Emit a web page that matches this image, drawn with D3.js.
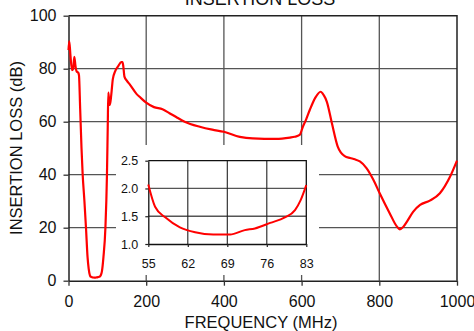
<!DOCTYPE html>
<html>
<head>
<meta charset="utf-8">
<script src="https://cdn.jsdelivr.net/npm/d3@7/dist/d3.min.js"></script>
<style>
  body { margin: 0; background: #fff; }
  svg { display: block; font-family: "Liberation Sans", Arial, Helvetica, sans-serif; }
</style>
</head>
<body>
<div id="chart"></div>
<script>
// main curve: frequency (MHz) vs insertion loss (dB)
var freq = [0, 2, 5, 9, 12, 15, 18, 21, 25, 27, 30, 33.5, 36.5, 41, 45, 49, 52,
  55, 56.2, 58, 60.6, 63.3, 66.5, 69.5, 72.1, 73.9, 76.6, 79.2, 81, 82, 83,
  86, 90, 95, 99, 101, 102.5, 104.5, 106.5, 110, 114, 120, 128, 136, 139, 141, 144,
  150, 158, 175, 183, 200, 220, 242, 260, 280, 299, 338, 370, 400, 441, 474,
  534, 570, 582, 595, 603, 612, 621, 635, 649, 657, 665, 678, 693, 711, 725,
  737, 750, 767, 785, 801, 827, 845, 853, 861, 872, 887, 905, 930, 956, 982, 1000];
var loss = [87, 90.3, 85, 79.5, 80, 84.5, 81, 79, 78.5, 77.5, 65, 50, 40, 30, 20, 9, 4.5,
  2.07, 1.67, 1.48, 1.3, 1.21, 1.17, 1.17, 1.25, 1.28, 1.38, 1.48, 1.61, 1.79, 2.06,
  3.5, 9, 20, 40, 58, 71, 68, 66.3, 70, 76, 79, 81, 82.5, 82.5, 81, 77,
  75.5, 74, 70.5, 69.4, 67.2, 65.5, 64.7, 63.2, 61.5, 60, 58.1, 57, 56.2, 54.3, 53.7,
  53.5, 54, 54.3, 55, 58, 61, 64.4, 69, 71.3, 70, 67.5, 59.4, 50.6, 47, 46.3,
  45.8, 45, 42.5, 38, 33, 25.4, 20.5, 19.4, 20.2, 22.5, 26, 28.6, 30.2, 33, 39.2, 45.3];

// inset: zoom on the passband 55..83 MHz
var insetFreq = [55, 56.2, 58, 60.6, 63.3, 66.5, 69.5, 72.1, 73.9, 76.6, 79.2, 81, 82, 83];
var insetLoss = [2.07, 1.67, 1.48, 1.3, 1.21, 1.17, 1.17, 1.25, 1.28, 1.38, 1.48, 1.61, 1.79, 2.06];

var xTicks = [0, 200, 400, 600, 800, 1000];
var yTicks = [0, 20, 40, 60, 80, 100];
var insetXTicks = [55, 62, 69, 76, 83];
var insetYTicks = [1.0, 1.5, 2.0, 2.5];

var W = 474, H = 331;
var mLeft = 68.5, mRight = 457, mTop = 15.7, mBottom = 280.7;

var svg = d3.select('#chart')
  .append('svg')
  .attr('width', W)
  .attr('height', H);

var x = d3.scaleLinear().domain([0, 1000]).range([mLeft, mRight]);
var y = d3.scaleLinear().domain([0, 100]).range([mBottom, mTop]);

var grid = svg.append('g').attr('class', 'grid');
grid.selectAll('line.h')
  .data(yTicks.slice(1, -1))
  .enter().append('line')
  .attr('class', 'h')
  .attr('x1', mLeft).attr('x2', mRight)
  .attr('y1', function(d) { return y(d); })
  .attr('y2', function(d) { return y(d); })
  .attr('stroke', '#555').attr('stroke-width', 1.3);
grid.selectAll('line.v')
  .data(xTicks.slice(1, -1))
  .enter().append('line')
  .attr('class', 'v')
  .attr('y1', mTop).attr('y2', mBottom)
  .attr('x1', function(d) { return x(d); })
  .attr('x2', function(d) { return x(d); })
  .attr('stroke', '#555').attr('stroke-width', 1.3);

// axes
var xAxis = svg.append('g')
  .attr('transform', 'translate(0,' + mBottom + ')')
  .call(d3.axisBottom(x).tickValues(xTicks).tickFormat(d3.format('d'))
    .tickSize(5).tickSizeOuter(0).tickPadding(10));
var yAxis = svg.append('g')
  .attr('transform', 'translate(' + mLeft + ',0)')
  .call(d3.axisLeft(y).tickValues(yTicks).tickFormat(d3.format('d'))
    .tickSize(5).tickSizeOuter(0).tickPadding(7));
[xAxis, yAxis].forEach(function(a) {
  a.attr('font-family', null);
  a.selectAll('text').attr('font-size', 16).attr('fill', '#111');
  a.selectAll('line').attr('stroke', '#333').attr('stroke-width', 1.3);
  a.select('.domain').attr('stroke', '#222').attr('stroke-width', 1.5);
});

// top and right frame
svg.append('path')
  .attr('d', 'M' + mLeft + ',' + mTop + 'H' + mRight + 'V' + mBottom)
  .attr('fill', 'none').attr('stroke', '#222').attr('stroke-width', 1.5);

var line = d3.line()
  .x(function(d, i) { return x(freq[i]); })
  .y(function(d) { return y(d); })
  .curve(d3.curveMonotoneX);

svg.append('path')
  .datum(loss)
  .attr('d', line)
  .attr('fill', 'none')
  .attr('stroke', '#ff0000')
  .attr('stroke-width', 2.2);

// titles
svg.append('text')
  .attr('x', 260).attr('y', 4.5)
  .attr('text-anchor', 'middle')
  .attr('font-size', 18).attr('fill', '#111')
  .text('INSERTION LOSS');
svg.append('text')
  .attr('x', 261).attr('y', 328)
  .attr('text-anchor', 'middle')
  .attr('font-size', 16.5).attr('fill', '#111')
  .text('FREQUENCY (MHz)');
svg.append('text')
  .attr('transform', 'translate(22,148) rotate(-90)')
  .attr('text-anchor', 'middle')
  .attr('font-size', 16.5).attr('fill', '#111')
  .text('INSERTION LOSS (dB)');

// inset
var inset = svg.append('g').attr('class', 'inset');
inset.append('rect')
  .attr('x', 116).attr('y', 145).attr('width', 203).attr('height', 130)
  .attr('fill', '#fff');

var ix = d3.scaleLinear().domain([55, 83]).range([148.3, 306.3]);
var iy = d3.scaleLinear().domain([1.0, 2.5]).range([244, 160.7]);

inset.selectAll('line.ih')
  .data(insetYTicks.slice(1, -1))
  .enter().append('line')
  .attr('class', 'ih')
  .attr('x1', ix(55)).attr('x2', ix(83))
  .attr('y1', function(d) { return iy(d); })
  .attr('y2', function(d) { return iy(d); })
  .attr('stroke', '#555').attr('stroke-width', 1.3);
inset.selectAll('line.iv')
  .data(insetXTicks.slice(1, -1))
  .enter().append('line')
  .attr('class', 'iv')
  .attr('y1', iy(2.5)).attr('y2', iy(1.0))
  .attr('x1', function(d) { return ix(d); })
  .attr('x2', function(d) { return ix(d); })
  .attr('stroke', '#222').attr('stroke-width', 1.1);

var ixAxis = inset.append('g')
  .attr('transform', 'translate(0,' + iy(1.0) + ')')
  .call(d3.axisBottom(ix).tickValues(insetXTicks).tickSize(3).tickSizeOuter(0).tickPadding(12));
var iyAxis = inset.append('g')
  .attr('transform', 'translate(' + ix(55) + ',0)')
  .call(d3.axisLeft(iy).tickValues(insetYTicks).tickFormat(d3.format('.1f')).tickSize(3).tickSizeOuter(0).tickPadding(7));
[ixAxis, iyAxis].forEach(function(a) {
  a.attr('font-family', null);
  a.selectAll('text').attr('font-size', 12.5).attr('fill', '#111');
  a.selectAll('line').attr('stroke', '#222').attr('stroke-width', 1.2);
  a.select('.domain').attr('stroke', '#111').attr('stroke-width', 1.3);
});
inset.append('path')
  .attr('d', 'M' + ix(55) + ',' + iy(2.5) + 'H' + ix(83) + 'V' + iy(1.0))
  .attr('fill', 'none').attr('stroke', '#111').attr('stroke-width', 1.3);

var iline = d3.line()
  .x(function(d, i) { return ix(insetFreq[i]); })
  .y(function(d) { return iy(d); })
  .curve(d3.curveMonotoneX);

inset.append('path')
  .datum(insetLoss)
  .attr('d', iline)
  .attr('fill', 'none')
  .attr('stroke', '#ff0000')
  .attr('stroke-width', 2);
</script>
</body>
</html>
